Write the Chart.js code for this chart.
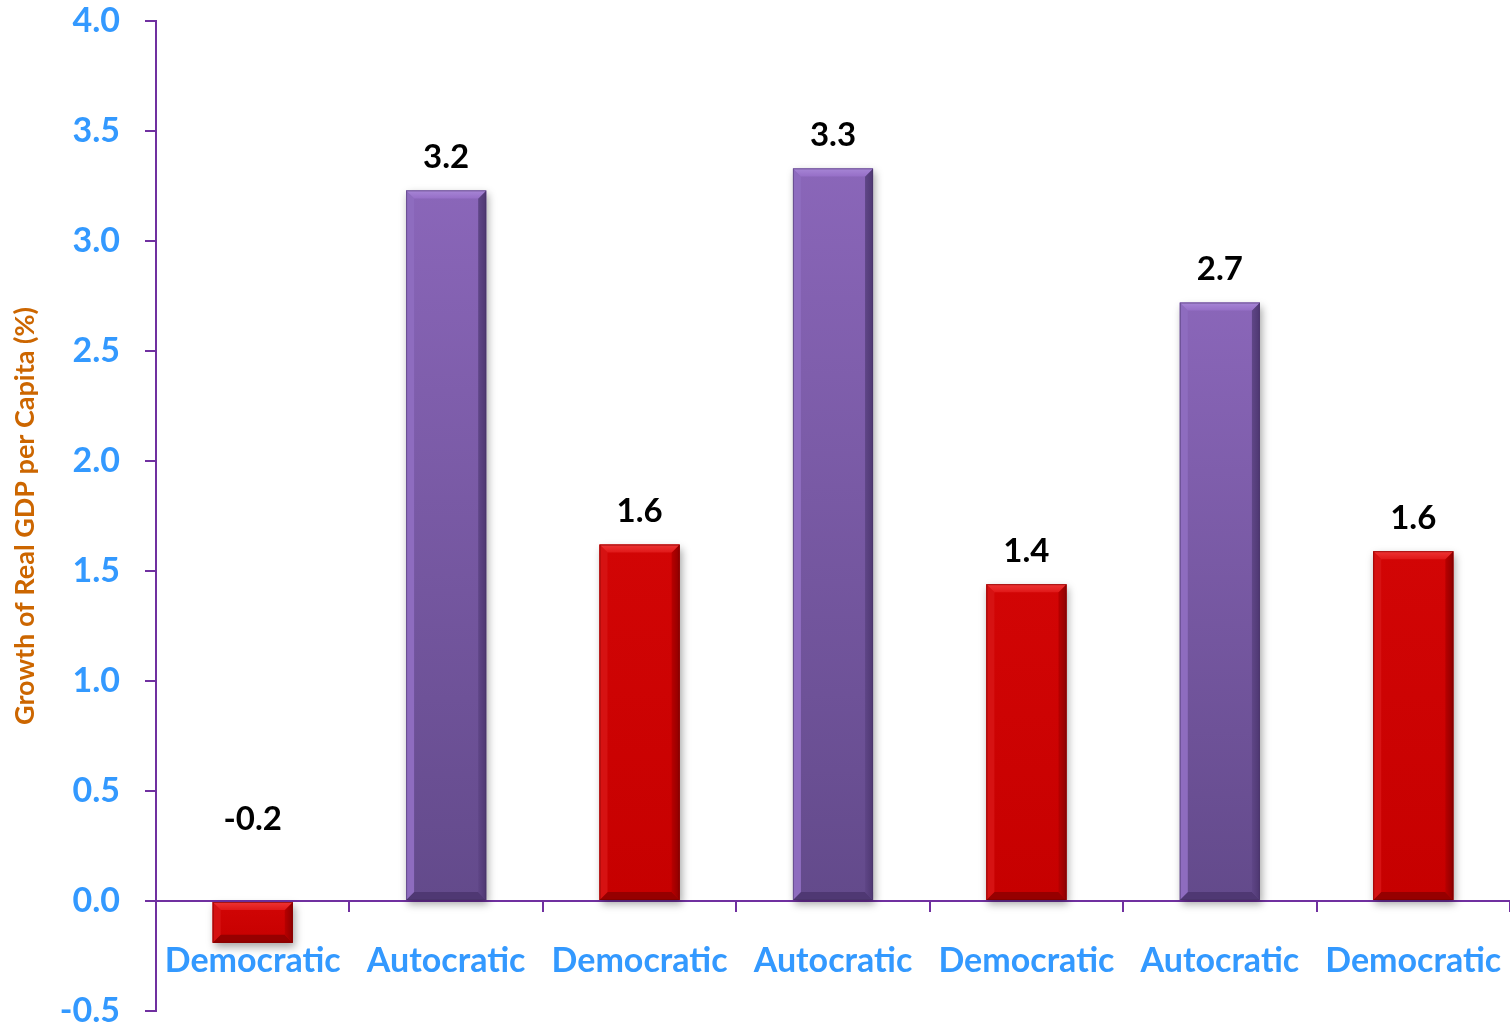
<!DOCTYPE html>
<html><head><meta charset="utf-8">
<script src="https://cdn.jsdelivr.net/npm/chart.js@4/dist/chart.umd.min.js"></script>
<style>html,body{margin:0;padding:0;background:#fff}canvas{display:block}</style>
</head><body>
<canvas id="c" width="1510" height="1024"></canvas>
<script>
const categories = ['Democratic','Autocratic','Democratic','Autocratic','Democratic','Autocratic','Democratic'];
const growthValues = [-0.19, 3.23, 1.62, 3.33, 1.44, 2.72, 1.59];
const dataLabels = ['-0.2','3.2','1.6','3.3','1.4','2.7','1.6'];
const yTicks = [-0.5, 0.0, 0.5, 1.0, 1.5, 2.0, 2.5, 3.0, 3.5, 4.0];
const yAxisTitle = 'Growth of Real GDP per Capita (%)';

const FONT = 'Lato';
const AXIS_COLOR = '#7030A0';
const TICK_COLOR = '#3399FF';

function isDem(i){ return categories[i] === 'Democratic'; }

function poly(ctx, pts, fill){
  ctx.beginPath();
  ctx.moveTo(pts[0][0], pts[0][1]);
  for (let k = 1; k < pts.length; k++) ctx.lineTo(pts[k][0], pts[k][1]);
  ctx.closePath();
  ctx.fillStyle = fill;
  ctx.fill();
}

const bevelPlugin = {
  id: 'bevel',
  afterDatasetsDraw(chart){
    const ctx = chart.ctx;
    const meta = chart.getDatasetMeta(0);
    meta.data.forEach((bar, i) => {
      const p = bar.getProps(['x','y','base','width'], true);
      const l = p.x - p.width/2, r = p.x + p.width/2;
      const t = Math.min(p.y, p.base), b = Math.max(p.y, p.base);
      const dem = isDem(i);
      ctx.save();
      ctx.shadowColor = 'rgba(0,0,0,0.35)';
      ctx.shadowBlur = 8; ctx.shadowOffsetX = 2; ctx.shadowOffsetY = 4;
      const g = ctx.createLinearGradient(0, t, 0, b);
      if (dem){ g.addColorStop(0,'#D20505'); g.addColorStop(1,'#C60000'); }
      else { g.addColorStop(0,'#8A66B9'); g.addColorStop(1,'#634A8B'); }
      ctx.fillStyle = g;
      ctx.fillRect(l, t, r-l, b-t);
      ctx.restore();
      ctx.save();
      const s = 8;
      const light = dem ? '#EE3535' : '#A786D6';
      const left = dem ? '#D61212' : '#8E6CBF';
      const right = dem ? '#8E0000' : '#4E3771';
      const bottom = dem ? '#960000' : '#4F3873';
      const rg = ctx.createLinearGradient(r - s, 0, r, 0);
      rg.addColorStop(0, dem ? '#B80000' : '#5F4687');
      rg.addColorStop(1, right);
      poly(ctx, [[l,b],[r,b],[r-s,b-s],[l+s,b-s]], bottom);
      poly(ctx, [[l,t],[l+s,t+s],[l+s,b-s],[l,b]], left);
      poly(ctx, [[r,t],[r,b],[r-s,b-s],[r-s,t+s]], rg);
      const tg = ctx.createLinearGradient(0, t, 0, t + s);
      tg.addColorStop(0, light);
      tg.addColorStop(1, dem ? '#E01818' : '#966FC7');
      poly(ctx, [[l,t],[r,t],[r-s,t+s],[l+s,t+s]], tg);
      ctx.strokeStyle = dem ? 'rgba(120,0,0,0.6)' : 'rgba(70,50,100,0.5)';
      ctx.lineWidth = 1;
      ctx.strokeRect(l+0.5, t+0.5, r-l-1, b-t-1);
      ctx.restore();

      // data label
      ctx.save();
      ctx.font = 'bold 33px ' + FONT;
      ctx.fillStyle = '#000000';
      ctx.textAlign = 'center';
      ctx.textBaseline = 'middle';
      const v = growthValues[i];
      const ly = v >= 0 ? p.y - 33 : p.base - 83;
      ctx.fillText(dataLabels[i], p.x, ly);
      ctx.restore();
    });
  }
};

new Chart(document.getElementById('c'), {
  type: 'bar',
  data: {
    labels: categories,
    datasets: [{
      data: growthValues,
      backgroundColor: categories.map((c, i) => isDem(i) ? '#CC0000' : '#7A58A8'),
      borderWidth: 0,
      categoryPercentage: 1.0,
      barPercentage: 0.414
    }]
  },
  options: {
    responsive: false,
    devicePixelRatio: 1,
    animation: false,
    layout: { padding: { top: 21, bottom: 13, left: 0, right: 0 } },
    plugins: { legend: { display: false }, tooltip: { enabled: false } },
    scales: {
      x: {
        position: { y: 0 },
        offset: true,
        grid: { display: true, drawOnChartArea: false, drawTicks: true, tickLength: 10, offset: true, color: AXIS_COLOR, lineWidth: 2 },
        border: { display: true, color: AXIS_COLOR, width: 2 },
        ticks: { color: TICK_COLOR, font: { family: FONT, weight: 'bold', size: 34 }, padding: 30, maxRotation: 0, autoSkip: false },
        afterFit(scale){ scale.paddingLeft = 0; scale.paddingRight = 0; }
      },
      y: {
        min: -0.5, max: 4.0,
        afterBuildTicks(scale){ scale.ticks = yTicks.map(v => ({ value: v })); },
        grid: { display: true, drawOnChartArea: false, drawTicks: true, tickLength: 11, color: AXIS_COLOR, lineWidth: 2 },
        border: { display: true, color: AXIS_COLOR, width: 2 },
        ticks: { color: TICK_COLOR, font: { family: FONT, weight: 'bold', size: 34 }, padding: 25, callback: v => Number(v).toFixed(1) },
        title: { display: true, text: yAxisTitle, color: '#CC6600', font: { family: FONT, weight: 'bold', size: 27 }, padding: { top: 9, bottom: 0 } },
        afterFit(scale){ scale.width = 156; scale.paddingTop = 0; scale.paddingBottom = 0; }
      }
    }
  },
  plugins: [bevelPlugin]
});
</script>
</body></html>
